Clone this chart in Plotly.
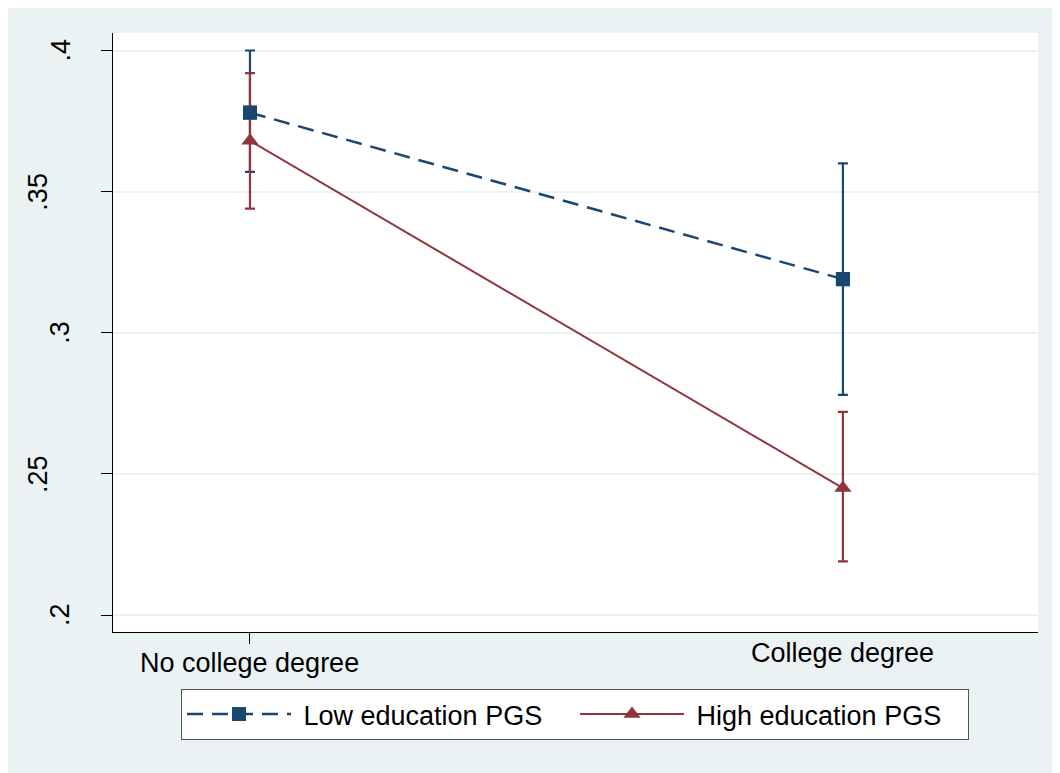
import plotly.graph_objects as go

# ---- data ----
categories = ["No college degree", "College degree"]
series_names = ["Low education PGS", "High education PGS"]
low_est = [0.378, 0.319]
low_upper = [0.400, 0.360]
low_lower = [0.357, 0.278]
high_est = [0.368, 0.245]
high_upper = [0.392, 0.272]
high_lower = [0.344, 0.219]
y_tick_vals = [0.2, 0.25, 0.3, 0.35, 0.4]
y_tick_text = [".2", ".25", ".3", ".35", ".4"]

NAVY = "#1A476F"
MAROON = "#90353B"
BG = "#EAF2F3"
FONT = "Liberation Sans, Arial, sans-serif"
FS = 27

x_idx = list(range(len(categories)))


def err(est, up, lo):
    return dict(type="data", symmetric=False,
                array=[u - e for u, e in zip(up, est)],
                arrayminus=[e - l for e, l in zip(est, lo)])


fig = go.Figure()

fig.add_trace(go.Scatter(
    x=x_idx, y=low_est, name="&nbsp;" + series_names[0], mode="lines+markers",
    line=dict(color=NAVY, width=2.5, dash="16px,9px"),
    marker=dict(symbol="square", size=14, color=NAVY),
    error_y=dict(**err(low_est, low_upper, low_lower), color=NAVY, thickness=2.2, width=5),
))
fig.add_trace(go.Scatter(
    x=x_idx, y=high_est, name="&nbsp;" + series_names[1], mode="lines+markers",
    line=dict(color=MAROON, width=2),
    marker=dict(symbol="triangle-up", size=15, color=MAROON),
    error_y=dict(**err(high_est, high_upper, high_lower), color=MAROON, thickness=2.2, width=5),
))
# navy markers drawn on top again
fig.add_trace(go.Scatter(
    x=x_idx, y=low_est, mode="markers", showlegend=False, hoverinfo="skip",
    marker=dict(symbol="square", size=14, color=NAVY),
))

annotations = []
# x category labels (second label sits slightly higher and has no tick)
x_label_shift = [-31, -21]
for i, cat in enumerate(categories):
    annotations.append(dict(
        x=i, xref="x", y=0, yref="paper", yshift=x_label_shift[i],
        text=cat, showarrow=False, xanchor="center", yanchor="middle",
        font=dict(family=FONT, size=FS, color="#000000"),
    ))
# rotated y tick labels
for v, t in zip(y_tick_vals, y_tick_text):
    annotations.append(dict(
        x=0, xref="paper", y=v, yref="y",
        xshift=-53 if len(t) == 2 else -75,
        text=t, textangle=-90, showarrow=False, xanchor="center", yanchor="middle",
        font=dict(family=FONT, size=FS, color="#000000"),
    ))

W, H = 1060, 773
ml, mr, mt, mb = 105, 30, 25, 149
pw, ph = W - ml - mr, H - mt - mb

fig.update_layout(
    width=W, height=H,
    margin=dict(l=ml, r=mr, t=mt, b=mb, pad=0),
    paper_bgcolor=BG, plot_bgcolor="white",
    font=dict(family=FONT, size=FS, color="#000000"),
    showlegend=True,
    legend=dict(
        orientation="h", x=(567 - ml) / pw, xanchor="center",
        y=(ph - (681 - mt)) / ph, yanchor="top",
        bgcolor="white", bordercolor="#555555", borderwidth=1,
        itemwidth=104, entrywidth=274, font=dict(family=FONT, size=FS),
        itemclick=False,
    ),
    xaxis=dict(
        range=[-0.231, 1.329], tickvals=[0], ticktext=[""], showticklabels=False,
        ticks="outside", ticklen=11, tickcolor="#000000", tickwidth=1,
        showgrid=False, zeroline=False, showline=True, linecolor="#000000", linewidth=1,
    ),
    yaxis=dict(
        range=[0.194, 0.4062], tickvals=y_tick_vals, ticktext=y_tick_text, showticklabels=False,
        ticks="outside", ticklen=11, tickcolor="#000000", tickwidth=1,
        showgrid=True, gridcolor=BG, gridwidth=2, zeroline=False,
        showline=True, linecolor="#000000", linewidth=1,
    ),
    annotations=annotations,
)

fig.write_html("out.html")
